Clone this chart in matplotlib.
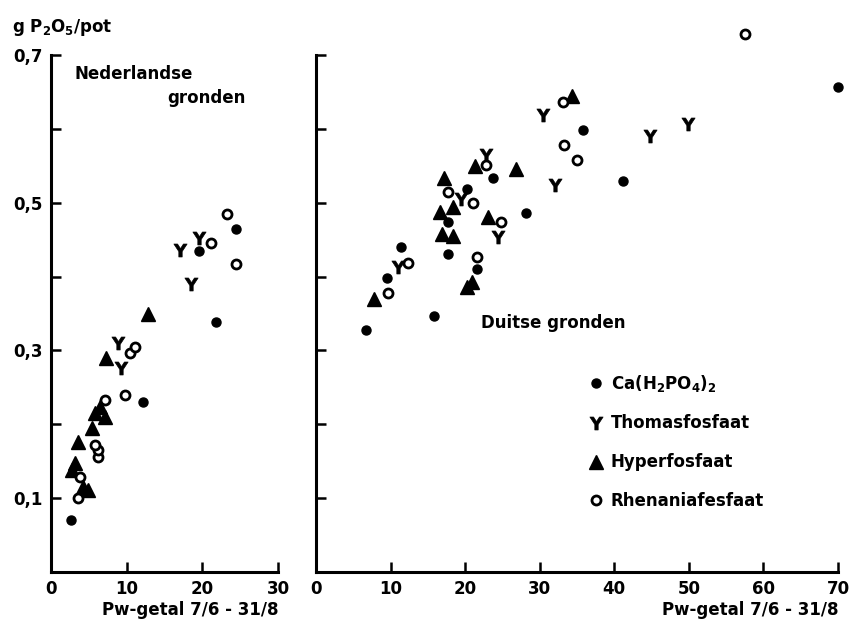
import matplotlib
matplotlib.use("Agg")
import matplotlib.pyplot as plt

# ---------------- data ----------------
# Left panel: Nederlandse gronden
ca_L_x = [2.7, 12.2, 19.6, 21.8, 24.4]
ca_L_y = [0.070, 0.230, 0.435, 0.339, 0.465]
th_L_x = [17.0, 19.6, 18.5, 8.9, 9.2]
th_L_y = [0.436, 0.452, 0.390, 0.310, 0.276]
hy_L_x = [12.8, 7.3, 2.8, 4.2, 4.9, 3.6, 3.2, 5.4, 5.8, 6.5, 7.1]
hy_L_y = [0.350, 0.290, 0.138, 0.115, 0.111, 0.176, 0.148, 0.195, 0.215, 0.224, 0.210]
rh_L_x = [23.2, 21.1, 24.4, 10.4, 11.1, 9.8, 7.1, 6.2, 6.2, 3.6, 3.8, 5.8]
rh_L_y = [0.485, 0.446, 0.417, 0.297, 0.305, 0.240, 0.233, 0.156, 0.165, 0.100, 0.129, 0.172]

# Right panel: Duitse gronden
ca_R_x = [6.7, 15.8, 9.5, 11.4, 17.7, 21.6, 23.7, 20.2, 17.7, 28.2, 35.8, 41.2, 70.0]
ca_R_y = [0.328, 0.347, 0.398, 0.440, 0.430, 0.410, 0.534, 0.519, 0.474, 0.486, 0.598, 0.530, 0.656]
th_R_x = [11.0, 22.8, 24.4, 30.4, 32.0, 44.8, 49.9, 19.5]
th_R_y = [0.413, 0.565, 0.453, 0.619, 0.524, 0.590, 0.606, 0.505]
hy_R_x = [7.8, 17.2, 16.6, 18.4, 16.9, 18.4, 21.3, 26.8, 23.1, 20.2, 20.9, 34.3]
hy_R_y = [0.369, 0.533, 0.488, 0.494, 0.457, 0.455, 0.550, 0.545, 0.481, 0.386, 0.392, 0.644]
rh_R_x = [9.7, 12.3, 21.6, 17.7, 21.0, 24.8, 22.8, 33.1, 33.2, 35.0, 57.5]
rh_R_y = [0.378, 0.419, 0.427, 0.515, 0.500, 0.474, 0.551, 0.636, 0.578, 0.558, 0.728]

series_names = ["Ca(H$_2$PO$_4$)$_2$", "Thomasfosfaat", "Hyperfosfaat", "Rhenaniafesfaat"]
y_ticks = [0.1, 0.2, 0.3, 0.4, 0.5, 0.6, 0.7]
y_ticklabels = ["0,1", "", "0,3", "", "0,5", "", "0,7"]
xL_ticks = [0, 10, 20, 30]
xR_ticks = [0, 10, 20, 30, 40, 50, 60, 70]
x_label = "Pw-getal 7/6 - 31/8"
y_label = "g P$_2$O$_5$/pot"

# ---------------- styling ----------------
plt.rcParams["font.family"] = ["DejaVu Sans"]
plt.rcParams["font.weight"] = "bold"
plt.rcParams["mathtext.default"] = "bf"

fig = plt.figure(figsize=(8.49, 6.29), dpi=100)
axL = fig.add_axes([51/849, 1-572/629, 227/849, 517/629])
axR = fig.add_axes([316/849, 1-572/629, 522/849, 517/629])

styles = [
    dict(marker="o", ms=6.5, mfc="black", mec="black", mew=1),
    dict(marker="$\\mathbf{Y}$", ms=9.5, mfc="black", mec="black", mew=0.5),
    dict(marker="^", ms=9.5, mfc="black", mec="black", mew=1),
    dict(marker="o", ms=6.5, mfc="white", mec="black", mew=2.0),
]

def draw(ax, data):
    handles = []
    for (xs, ys), st, name in zip(data, styles, series_names):
        h, = ax.plot(xs, ys, ls="none", color="black", clip_on=False,
                     label=name, **st)
        handles.append(h)
    return handles

draw(axL, [(ca_L_x, ca_L_y), (th_L_x, th_L_y), (hy_L_x, hy_L_y), (rh_L_x, rh_L_y)])
hR = draw(axR, [(ca_R_x, ca_R_y), (th_R_x, th_R_y), (hy_R_x, hy_R_y), (rh_R_x, rh_R_y)])

for ax, xt, xmax in [(axL, xL_ticks, 30), (axR, xR_ticks, 70)]:
    ax.set_xlim(0, xmax)
    ax.set_ylim(0, 0.7)
    ax.set_xticks(xt)
    ax.set_xticklabels([str(t) for t in xt], fontsize=12, fontweight="bold")
    ax.set_yticks(y_ticks)
    for s in ["top", "right"]:
        ax.spines[s].set_visible(False)
    for s in ["left", "bottom"]:
        ax.spines[s].set_linewidth(2.2)
    ax.tick_params(direction="in", length=7, width=1.8, pad=6)
    ax.set_facecolor("none")

axL.set_yticklabels(y_ticklabels, fontsize=12, fontweight="bold")
axR.set_yticklabels([])

axL.set_xlabel(x_label, fontsize=12, fontweight="bold", loc="right", labelpad=2)
axR.set_xlabel(x_label, fontsize=12, fontweight="bold", loc="right", labelpad=2)

fig.text(12/849, 1-27/629, y_label, fontsize=12, fontweight="bold", va="center", ha="left")

fig.text(74/849, 1-74/629, "Nederlandse", fontsize=12, fontweight="bold", va="center", ha="left")
fig.text(167/849, 1-98/629, "gronden", fontsize=12, fontweight="bold", va="center", ha="left")
fig.text(481/849, 1-323/629, "Duitse gronden", fontsize=12, fontweight="bold", va="center", ha="left")

leg = axR.legend(handles=hR, loc="upper left", bbox_to_anchor=(268/522, 1-(366-55)/517),
                 frameon=False, fontsize=12, handlelength=0.6, handletextpad=0.6,
                 labelspacing=1.25, borderaxespad=0)
for t in leg.get_texts():
    t.set_fontweight("bold")

fig.savefig("out.png", dpi=100, facecolor="white")
